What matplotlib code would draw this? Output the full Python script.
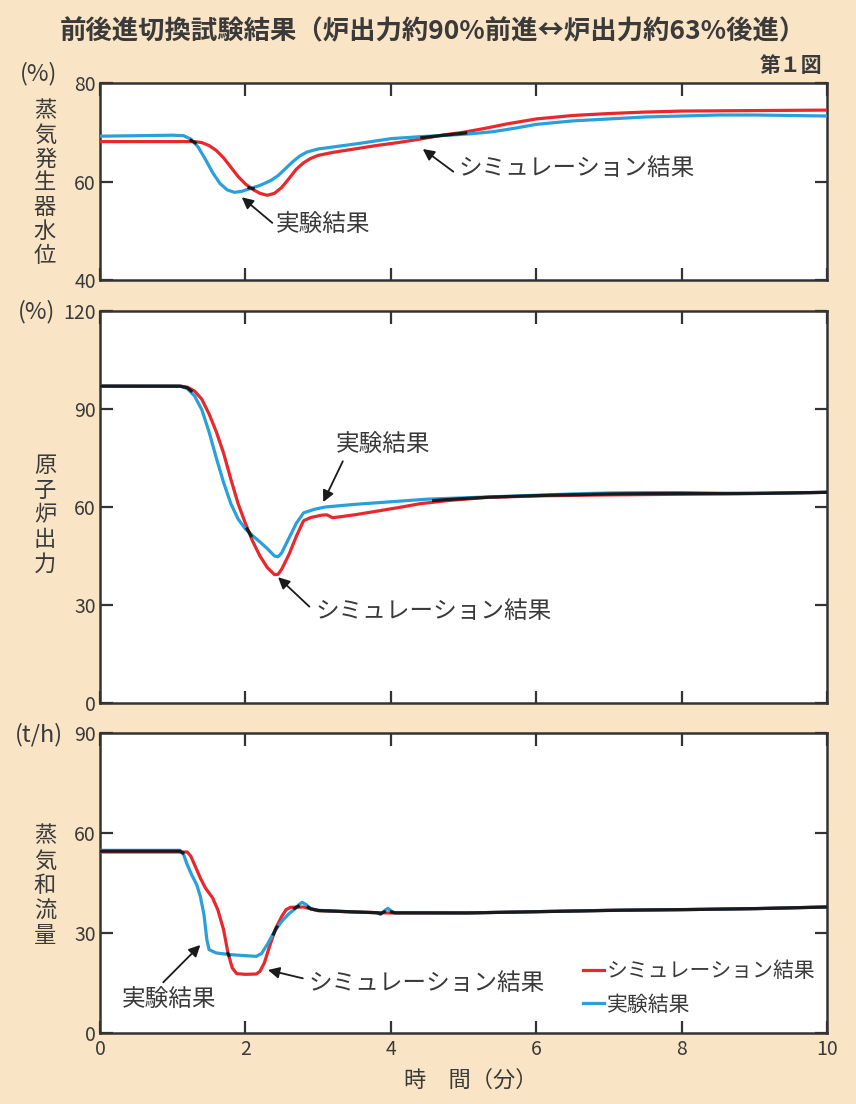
import numpy as np
import matplotlib
matplotlib.use("Agg")
import matplotlib.pyplot as plt
from matplotlib.lines import Line2D

plt.rcParams['font.family'] = ['Noto Sans CJK JP', 'DejaVu Sans']

# ---------------- data ----------------
# Panel 1: steam generator water level (%)
t_sg_sim = [0, 1.0, 1.3, 1.4, 1.5, 1.6, 1.7, 1.8, 1.9, 2.0, 2.1, 2.2, 2.3, 2.4, 2.5, 2.6, 2.7, 2.8, 2.9,
            3.0, 3.2, 3.5, 3.8, 4.1, 4.4, 4.7, 5.0, 5.3, 5.6, 6.0, 6.5, 7.0, 7.5, 8.0, 9.0, 10]
v_sg_sim = [68.1, 68.1, 68.1, 67.9, 67.3, 66.3, 64.8, 62.9, 61.0, 59.5, 58.4, 57.6, 57.2, 57.6, 58.8, 60.6, 62.5, 63.8, 64.7,
            65.3, 65.9, 66.6, 67.3, 67.9, 68.6, 69.4, 70.0, 70.8, 71.7, 72.7, 73.4, 73.8, 74.1, 74.3, 74.4, 74.5]
t_sg_exp = [0, 1.0, 1.15, 1.25, 1.35, 1.45, 1.55, 1.65, 1.75, 1.85, 1.95, 2.05, 2.2, 2.35, 2.45, 2.55, 2.65, 2.75, 2.85,
            3.0, 3.3, 3.6, 4.0, 4.4, 4.8, 5.1, 5.4, 5.7, 6.0, 6.5, 7.0, 7.5, 8.0, 8.5, 9.0, 9.5, 10]
v_sg_exp = [69.2, 69.4, 69.3, 68.6, 67.0, 64.5, 61.8, 59.6, 58.3, 57.8, 58.0, 58.5, 59.2, 60.2, 61.2, 62.6, 64.0, 65.2, 66.0,
            66.6, 67.2, 67.8, 68.7, 69.1, 69.4, 69.7, 70.1, 70.8, 71.6, 72.3, 72.7, 73.1, 73.3, 73.5, 73.5, 73.4, 73.3]

# Panel 2: reactor power (%)
t_pw_sim = [0, 1.1, 1.2, 1.3, 1.4, 1.5, 1.6, 1.7, 1.8, 1.9, 2.0, 2.1, 2.2, 2.3, 2.4, 2.45, 2.5, 2.6, 2.7, 2.8, 2.9,
            3.05, 3.12, 3.2, 3.3, 3.5, 3.8, 4.1, 4.4, 4.8, 5.3, 6.0, 7.0, 8.0, 9.0, 10]
v_pw_sim = [97, 97, 96.7, 95.5, 93.0, 88.5, 83.0, 76.5, 68.5, 61.0, 55.0, 49.5, 45.0, 41.5, 39.3, 39.4, 41.0, 45.5, 51.0, 55.8, 56.8,
            57.5, 57.6, 56.7, 57.0, 57.6, 58.7, 59.8, 61.0, 62.0, 62.9, 63.4, 63.7, 63.9, 64.1, 64.5]
t_pw_exp = [0, 1.1, 1.2, 1.3, 1.4, 1.5, 1.6, 1.7, 1.8, 1.9, 2.0, 2.1, 2.2, 2.3, 2.4, 2.45, 2.5, 2.6, 2.7, 2.8, 2.95,
            3.1, 3.5, 4.0, 4.5, 5.0, 5.5, 6.0, 6.5, 7.0, 7.5, 8.0, 8.5, 9.0, 9.5, 10]
v_pw_exp = [97, 97, 96.3, 94.0, 89.8, 83.0, 75.0, 67.5, 61.0, 56.3, 53.3, 51.2, 49.3, 47.3, 45.0, 44.8, 46.0, 50.5, 55.0, 58.2, 59.3,
            60.0, 60.8, 61.6, 62.4, 62.8, 63.2, 63.6, 64.0, 64.3, 64.4, 64.4, 64.2, 64.2, 64.3, 64.5]

# Panel 3: steam flow (t/h)
t_fl_sim = [0, 1.2, 1.25, 1.3, 1.38, 1.45, 1.55, 1.62, 1.7, 1.76, 1.82, 1.88, 2.0, 2.15, 2.2, 2.26, 2.34, 2.42, 2.5,
            2.56, 2.62, 2.8, 2.9, 3.0, 3.5, 4.0, 5.0, 6.0, 7.0, 8.0, 9.0, 10]
v_fl_sim = [54.3, 54.3, 53.0, 50.5, 46.5, 43.5, 40.5, 37.0, 31.0, 24.0, 19.5, 17.8, 17.6, 17.7, 18.5, 21.0, 26.5, 31.5, 35.0,
            37.0, 37.7, 37.8, 37.2, 36.7, 36.3, 36.0, 36.0, 36.4, 36.8, 37.0, 37.3, 37.8]
t_fl_exp = [0, 1.1, 1.15, 1.2, 1.26, 1.33, 1.38, 1.43, 1.47, 1.5, 1.6, 1.8, 2.0, 2.15, 2.22, 2.3, 2.4, 2.5, 2.6, 2.68,
            2.74, 2.78, 2.83, 2.9, 3.0, 3.5, 3.8, 3.86, 3.92, 3.96, 4.0, 4.05, 5.0, 6.0, 7.0, 8.0, 9.0, 10]
v_fl_exp = [54.8, 54.8, 53.5, 50.5, 47.5, 44.5, 41.0, 35.5, 28.0, 25.0, 24.0, 23.5, 23.2, 23.0, 23.8, 26.5, 30.5, 33.5, 35.8, 37.2,
            38.6, 39.2, 38.6, 37.3, 36.8, 36.3, 36.1, 35.6, 36.8, 37.4, 36.7, 36.1, 36.0, 36.4, 36.8, 37.0, 37.3, 37.8]

x_ticks = [0, 2, 4, 6, 8, 10]
title = "前後進切換試験結果（炉出力約90%前進↔炉出力約63%後進）"
label_sim = "シミュレーション結果"
label_exp = "実験結果"

# ---------------- style ----------------
W, H = 856, 1104
BG = "#f9e5c6"
RED = "#e8282c"
BLUE = "#2aa0da"
INK = "#3a3a3a"
SP = "#333333"

fig = plt.figure(figsize=(W / 100, H / 100), dpi=100, facecolor=BG)

def add_ax(top, bottom, left=100, right=827):
    return fig.add_axes([left / W, 1 - bottom / H, (right - left) / W, (bottom - top) / H])

ax1 = add_ax(83, 280)
ax2 = add_ax(311, 703)
ax3 = add_ax(733, 1033)

panels = [
    (ax1, (40, 80), [40, 60, 80], t_sg_sim, v_sg_sim, t_sg_exp, v_sg_exp, 0.45),
    (ax2, (0, 120), [0, 30, 60, 90, 120], t_pw_sim, v_pw_sim, t_pw_exp, v_pw_exp, 1.0),
    (ax3, (0, 90), [0, 30, 60, 90], t_fl_sim, v_fl_sim, t_fl_exp, v_fl_exp, 0.6),
]

tt = np.linspace(0, 10, 3001)
for ax, ylim, yt, ts, vs, te, ve, thr in panels:
    ax.set_facecolor("white")
    ax.plot(ts, vs, color=RED, lw=2.3, solid_capstyle='round', solid_joinstyle='round', zorder=3)
    ax.plot(te, ve, color=BLUE, lw=2.3, solid_capstyle='round', solid_joinstyle='round', zorder=4)
    r = np.interp(tt, ts, vs)
    b = np.interp(tt, te, ve)
    both = np.where(np.abs(r - b) < thr, (r + b) / 2, np.nan)
    ax.plot(tt, both, color="#1a1a1a", lw=2.3, zorder=5)
    ax.set_xlim(0, 10)
    ax.set_ylim(*ylim)
    ax.set_xticks(x_ticks)
    ax.set_yticks(yt)
    ax.tick_params(direction='in', length=9, width=1.6, color=SP,
                   top=True, right=True, labelsize=14, labelcolor=INK, pad=3)
    for s in ax.spines.values():
        s.set_color(SP)
        s.set_linewidth(1.8)
    if ax is not ax3:
        ax.tick_params(labelbottom=False)

ax3.tick_params(axis='x', pad=4)

# ---------------- annotations ----------------
akw = dict(arrowstyle='-|>', color='#1a1a1a', lw=1.3, mutation_scale=17,
           shrinkA=0, shrinkB=0)
tkw = dict(fontsize=17, color=INK, va='center', ha='left')

ax1.annotate('', xy=(1.95, 56.8), xytext=(2.37, 51.6), arrowprops=akw)
ax1.text(2.42, 51.1, label_exp, **tkw)
ax1.annotate('', xy=(4.44, 66.6), xytext=(4.86, 62.0), arrowprops=akw)
ax1.text(4.93, 62.6, label_sim, **tkw)

ax2.annotate('', xy=(3.07, 61.5), xytext=(3.34, 74.0), arrowprops=akw)
ax2.text(3.24, 79.0, label_exp, **tkw)
ax2.annotate('', xy=(2.45, 38.5), xytext=(2.88, 29.5), arrowprops=akw)
ax2.text(2.96, 27.9, label_sim, **tkw)

ax3.annotate('', xy=(1.38, 26.4), xytext=(0.87, 15.2), arrowprops=akw)
ax3.text(0.3, 9.9, label_exp, **tkw)
ax3.annotate('', xy=(2.31, 18.9), xytext=(2.79, 16.4), arrowprops=akw)
ax3.text(2.87, 15.0, label_sim, **tkw)

handles = [Line2D([], [], color=RED, lw=2.3), Line2D([], [], color=BLUE, lw=2.3)]
leg = ax3.legend(handles, [label_sim, label_exp], loc='upper left',
                 bbox_to_anchor=((583 - 100) / 727, (1033 - 960) / 300),
                 frameon=False, fontsize=15, handlelength=1.0, handletextpad=0.15,
                 labelspacing=0.55, borderpad=0, borderaxespad=0)
for txt in leg.get_texts():
    txt.set_color(INK)

# ---------------- titles and labels ----------------
fig.text(433 / W, 1 - 32 / H, title, fontsize=19, fontweight='bold', color=INK,
         ha='center', va='center')
fig.text(822 / W, 1 - 65 / H, "第１図", fontsize=15, fontweight='bold', color=INK,
         ha='right', va='center')

unit_kw = dict(fontsize=17, color=INK, ha='center', va='center')
fig.text(39 / W, 1 - 74 / H, "(%)", **unit_kw)
fig.text(37 / W, 1 - 312 / H, "(%)", **unit_kw)
fig.text(39 / W, 1 - 735 / H, "(t/h)", **unit_kw)

def vlabel(s, x, y0, step):
    for i, ch in enumerate(s):
        fig.text(x / W, 1 - (y0 + i * step) / H, ch, fontsize=16, color=INK,
                 ha='center', va='center')

vlabel("蒸気発生器水位", 45, 111, 24)
vlabel("原子炉出力", 45, 466, 24.5)
vlabel("蒸気和流量", 45, 836, 25)

fig.text(471 / W, 1 - 1080 / H, "時　間（分）", fontsize=16, color=INK,
         ha='center', va='center')

fig.savefig("out.png", dpi=100, facecolor=BG)
